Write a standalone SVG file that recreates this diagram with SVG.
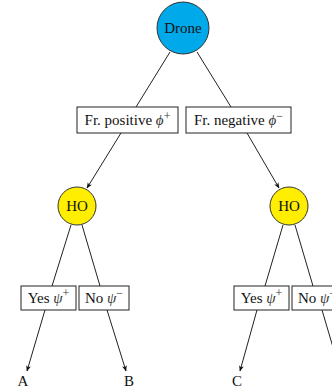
<svg xmlns="http://www.w3.org/2000/svg" width="332" height="388" viewBox="0 0 332 388">
<style>
text{font-family:"Liberation Serif","Times New Roman",serif;font-size:15px;fill:#111;text-anchor:middle}
.m{font-style:italic;fill:#333}
.s{font-size:12px;fill:#333}
.box{fill:#fff;stroke:#222;stroke-width:1}
.edge{stroke:#222;stroke-width:1;fill:none}
.arr{marker-end:url(#ah)}
</style>
<defs>
<marker id="ah" viewBox="0 0 10 10" refX="9" refY="5" markerWidth="6" markerHeight="6" markerUnits="userSpaceOnUse" orient="auto">
<path d="M0,1 L10,5 L0,9 L2.5,5 z" fill="#111"/>
</marker>
</defs>
<g id="connectors">
<line class="edge" x1="170" y1="52" x2="136" y2="107"/>
<line class="edge" x1="197" y1="52" x2="231" y2="107"/>
<line class="edge arr" x1="121" y1="133" x2="87" y2="188"/>
<line class="edge arr" x1="247" y1="133" x2="279" y2="188"/>
<line class="edge" x1="71" y1="225" x2="52" y2="286"/>
<line class="edge" x1="82" y1="225" x2="100" y2="286"/>
<line class="edge" x1="283" y1="225" x2="265" y2="286"/>
<line class="edge" x1="295" y1="225" x2="313" y2="286"/>
<line class="edge arr" x1="45" y1="310" x2="27" y2="371"/>
<line class="edge arr" x1="107" y1="310" x2="126" y2="371"/>
<line class="edge arr" x1="257" y1="310" x2="240" y2="371"/>
<line class="edge arr" x1="322" y1="310" x2="340" y2="371"/>
</g>
<g id="drone">
<circle cx="183" cy="28" r="26" fill="#00A9E9" stroke="#333" stroke-width="1"/>
<text x="183" y="33">Drone</text>
</g>
<g id="fr-positive">
<rect class="box" x="77" y="107" width="101" height="26"/>
<text x="127.5" y="125">Fr. positive <tspan class="m">ϕ</tspan><tspan class="s" dy="-5.5">+</tspan></text>
</g>
<g id="fr-negative">
<rect class="box" x="186" y="107" width="105" height="26"/>
<text x="238.5" y="125">Fr. negative <tspan class="m">ϕ</tspan><tspan class="s" dy="-5.5">−</tspan></text>
</g>
<g id="ho-left">
<circle cx="77" cy="206" r="19" fill="#FFEE00" stroke="#333" stroke-width="1"/>
<text x="77" y="211">HO</text>
</g>
<g id="ho-right">
<circle cx="289" cy="206" r="19" fill="#FFEE00" stroke="#333" stroke-width="1"/>
<text x="289" y="211">HO</text>
</g>
<g id="yes-left">
<rect class="box" x="21" y="286" width="55" height="24"/>
<text x="48.5" y="302.5">Yes <tspan class="m">ψ</tspan><tspan class="s" dy="-5.5">+</tspan></text>
</g>
<g id="no-left">
<rect class="box" x="79" y="286" width="50" height="24"/>
<text x="104" y="302.5">No <tspan class="m">ψ</tspan><tspan class="s" dy="-5.5">−</tspan></text>
</g>
<g id="yes-right">
<rect class="box" x="234" y="286" width="55" height="24"/>
<text x="261.5" y="302.5">Yes <tspan class="m">ψ</tspan><tspan class="s" dy="-5.5">+</tspan></text>
</g>
<g id="no-right">
<rect class="box" x="292" y="286" width="50" height="24"/>
<text x="317" y="302.5">No <tspan class="m">ψ</tspan><tspan class="s" dy="-5.5">−</tspan></text>
</g>
<g id="leaf-a"><text x="23" y="385.5">A</text></g>
<g id="leaf-b"><text x="129" y="385.5">B</text></g>
<g id="leaf-c"><text x="237" y="385.5">C</text></g>
</svg>
